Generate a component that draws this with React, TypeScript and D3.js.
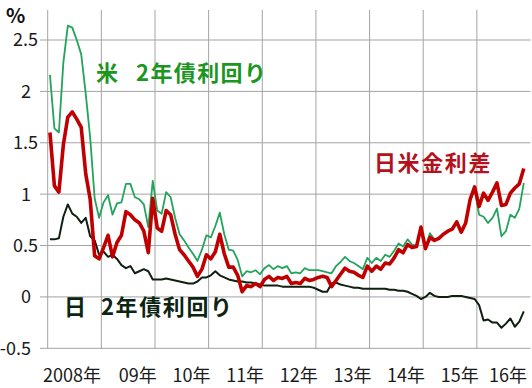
import React from 'react'
import * as d3 from 'd3'

// monthly, Jan 2008 .. Nov 2016
const usYield = [
  2.16, 1.64, 1.60, 2.28, 2.64, 2.62, 2.50, 2.36, 1.98, 1.55, 0.96, 0.77,
  0.92, 0.99, 0.80, 0.91, 0.92, 1.10, 1.10, 0.97, 0.95, 0.90, 0.68, 1.13,
  0.84, 0.81, 1.02, 0.97, 0.77, 0.61, 0.55, 0.48, 0.42, 0.35, 0.46, 0.60,
  0.58, 0.69, 0.82, 0.61, 0.46, 0.45, 0.36, 0.20, 0.25, 0.24, 0.26, 0.22,
  0.28, 0.31, 0.27, 0.30, 0.28, 0.30, 0.23, 0.24, 0.23, 0.28, 0.26, 0.26,
  0.26, 0.25, 0.24, 0.23, 0.30, 0.34, 0.39, 0.35, 0.33, 0.30, 0.27, 0.38,
  0.33, 0.38, 0.35, 0.41, 0.39, 0.45, 0.52, 0.49, 0.56, 0.51, 0.50, 0.66,
  0.47, 0.62, 0.56, 0.57, 0.61, 0.64, 0.67, 0.74, 0.64, 0.72, 0.94, 1.05,
  0.80, 0.78, 0.72, 0.77, 0.86, 0.59, 0.64, 0.80, 0.77, 0.86, 1.11,
]

const jpYield = [
  0.56, 0.56, 0.57, 0.78, 0.90, 0.81, 0.78, 0.72, 0.77, 0.59, 0.55, 0.41,
  0.44, 0.39, 0.41, 0.37, 0.31, 0.28, 0.30, 0.23, 0.25, 0.27, 0.25, 0.17,
  0.17, 0.17, 0.18, 0.17, 0.16, 0.15, 0.14, 0.13, 0.13, 0.15, 0.19, 0.19,
  0.21, 0.25, 0.21, 0.19, 0.17, 0.16, 0.15, 0.15, 0.14, 0.14, 0.13, 0.12,
  0.11, 0.11, 0.11, 0.11, 0.10, 0.10, 0.10, 0.10, 0.10, 0.10, 0.10, 0.09,
  0.07, 0.05, 0.05, 0.13, 0.14, 0.12, 0.11, 0.10, 0.09, 0.09, 0.08, 0.08,
  0.08, 0.08, 0.08, 0.08, 0.07, 0.07, 0.06, 0.06, 0.05, 0.03, 0.01, -0.02,
  0.00, 0.04, 0.01, 0.00, 0.00, 0.00, 0.01, 0.01, 0.01, 0.00, -0.01, -0.02,
  -0.08, -0.23, -0.22, -0.25, -0.25, -0.30, -0.26, -0.21, -0.29, -0.24, -0.14,
]

const spread = [
  1.60, 1.08, 1.02, 1.48, 1.75, 1.80, 1.73, 1.65, 1.20, 0.95, 0.40, 0.37,
  0.48, 0.60, 0.39, 0.53, 0.60, 0.83, 0.80, 0.75, 0.72, 0.64, 0.43, 0.96,
  0.67, 0.64, 0.84, 0.80, 0.61, 0.46, 0.41, 0.35, 0.29, 0.20, 0.27, 0.41,
  0.37, 0.44, 0.61, 0.42, 0.29, 0.29, 0.21, 0.05, 0.11, 0.10, 0.13, 0.10,
  0.17, 0.20, 0.16, 0.19, 0.18, 0.20, 0.13, 0.14, 0.13, 0.18, 0.16, 0.17,
  0.19, 0.20, 0.19, 0.10, 0.16, 0.22, 0.28, 0.25, 0.24, 0.21, 0.19, 0.30,
  0.25, 0.30, 0.27, 0.33, 0.32, 0.38, 0.46, 0.43, 0.51, 0.48, 0.49, 0.68,
  0.47, 0.58, 0.55, 0.57, 0.61, 0.64, 0.66, 0.73, 0.63, 0.72, 0.95, 1.07,
  0.88, 1.01, 0.94, 1.02, 1.11, 0.89, 0.90, 1.01, 1.06, 1.10, 1.25,
]

const yearLabels = ['2008年', '09年', '10年', '11年', '12年', '13年', '14年', '15年', '16年']
const yTicks = [2.5, 2, 1.5, 1, 0.5, 0, -0.5]

const W = 532
const H = 388
const font = '"Noto Sans CJK JP", "Noto Sans", sans-serif'

export default function App() {
  const left = 47.7, right = 530.5, top = 10

  const x = d3.scaleLinear().domain([0, yearLabels.length * 12]).range([left, right])
  const y = d3.scaleLinear().domain([-0.5, 2.5]).range([348.3, 40])

  const line = d3.line<number>()
    .x((d, i) => x(i + 0.5))
    .y(d => y(d))

  const grid = '#a3a3a3'

  return (
    <div style={{position: 'absolute', left: 0, top: 0}}>
      <svg width={W} height={H} style={{display: 'block', background: '#fff'}} fontFamily={font}>
        {yTicks.map(t => (
          <line key={'h' + t} x1={40} x2={right} y1={y(t)} y2={y(t)} stroke={grid} strokeWidth={1} />
        ))}
        {yearLabels.map((l, k) => (
          <line key={'v' + k} x1={x(k * 12)} x2={x(k * 12)} y1={top} y2={y(-0.5)} stroke={grid} strokeWidth={1} />
        ))}

        {yTicks.map(t => (
          <text key={'t' + t} x={Number.isInteger(t) || t < 0 ? 31 : 38} y={y(t)} dy="0.36em"
            textAnchor="end" fontSize={18} fill="#1a1a1a">{t}</text>
        ))}
        <text x={6} y={23} fontSize={20} fontWeight="bold" fill="#111">%</text>

        {yearLabels.map((l, k) => {
          let anchor = 'middle', px = x(k * 12) + 36.5
          if (k === 0) { anchor = 'start'; px = 43 }
          if (k === yearLabels.length - 1) { anchor = 'end'; px = 527 }
          return (
            <text key={'x' + k} x={px} y={382} textAnchor={anchor} fontSize={18} fill="#1a1a1a">{l}</text>
          )
        })}

        <path d={line(usYield) || ''} fill="none" stroke="#23a35c" strokeWidth={1.8} strokeLinejoin="round" />
        <path d={line(jpYield) || ''} fill="none" stroke="#0f1f10" strokeWidth={2} strokeLinejoin="round" />
        <path d={line(spread) || ''} fill="none" stroke="#c00000" strokeWidth={3.6} strokeLinejoin="round" />

        <text y={80.5} fontSize={22} fontWeight="bold" fill="#1b961f" letterSpacing={1.4}>
          <tspan x={96}>米</tspan><tspan x={136}>2年債利回り</tspan>
        </text>
        <text x={374} y={170.5} fontSize={22} fontWeight="bold" fill="#b3121c" letterSpacing={1.6}>日米金利差</text>
        <text y={315} fontSize={22} fontWeight="bold" fill="#0c2512" letterSpacing={1.6}>
          <tspan x={64}>日</tspan><tspan x={101}>2年債利回り</tspan>
        </text>
      </svg>
    </div>
  )
}
